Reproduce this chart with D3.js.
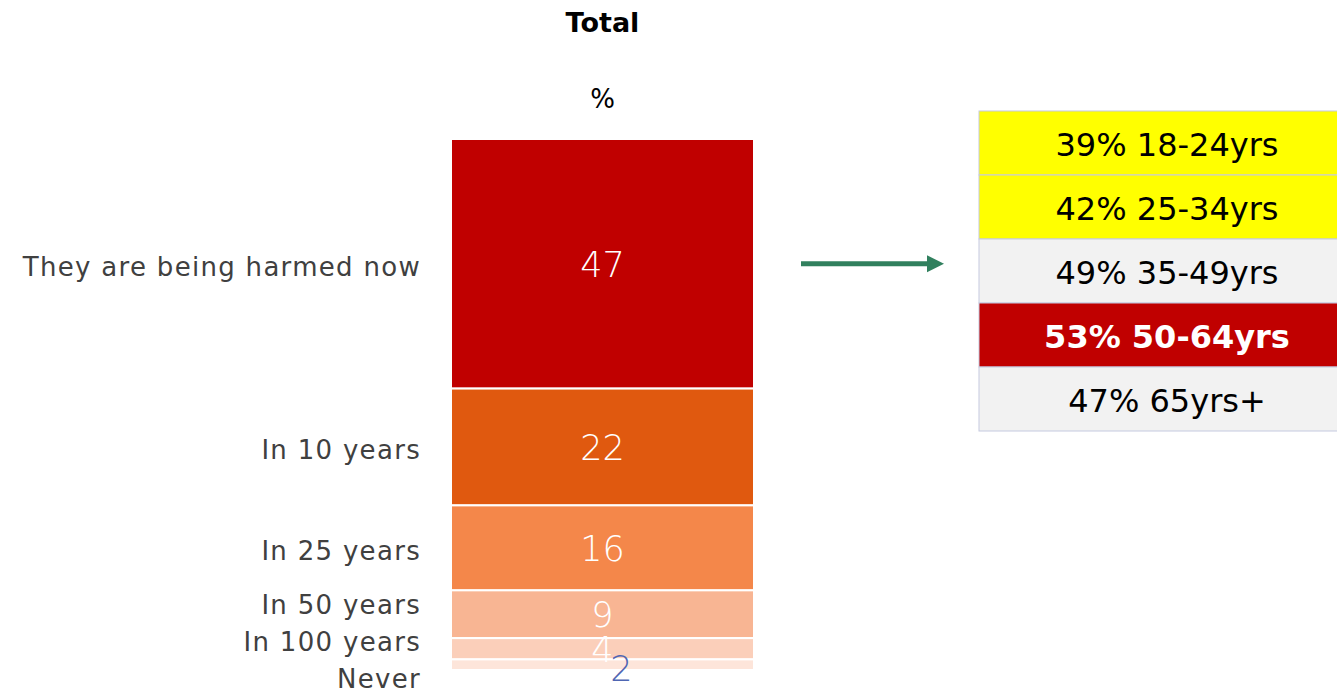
<!DOCTYPE html>
<html>
<head>
<meta charset="utf-8">
<script src="https://cdn.jsdelivr.net/npm/d3@7"></script>
<style>
  html, body { margin: 0; padding: 0; background: #ffffff; overflow: hidden; }
  svg { display: block; }
  text { font-family: "DejaVu Sans", sans-serif; }
</style>
</head>
<body>
<svg id="chart" width="1337" height="691"></svg>
<script>
// ---- data ----
const categories = ["They are being harmed now", "In 10 years", "In 25 years", "In 50 years", "In 100 years", "Never"];
const totalValues = [47, 22, 16, 9, 4, 2];
const segmentColors = ["#c00000", "#e0590f", "#f4874a", "#f8b593", "#fbcfba", "#fde5da"];
const ageGroups = ["18-24yrs", "25-34yrs", "35-49yrs", "50-64yrs", "65yrs+"];
const agePercents = [39, 42, 49, 53, 47];
const chartTitle = "Total";
const unitLabel = "%";

// ---- layout ----
const svg = d3.select("#chart");

const x = d3.scaleBand().domain([chartTitle]).range([451, 754]).padding(0);
const y = d3.scaleLinear().domain([0, 100]).range([139, 670]);

// stack
const stacked = [];
let acc = 0;
totalValues.forEach((v, i) => {
  stacked.push({ cat: categories[i], value: v, y0: acc, y1: acc + v, color: segmentColors[i] });
  acc += v;
});

const cx = x(chartTitle) + x.bandwidth() / 2;

// title
svg.append("text")
  .attr("x", cx)
  .attr("y", 22)
  .attr("text-anchor", "middle")
  .attr("dominant-baseline", "central")
  .style("font-size", "27px")
  .style("font-weight", "bold")
  .style("fill", "#000")
  .text(chartTitle);

svg.append("text")
  .attr("x", cx)
  .attr("y", 99)
  .attr("text-anchor", "middle")
  .attr("dominant-baseline", "central")
  .style("font-size", "26px")
  .style("fill", "#000")
  .text(unitLabel);

// segments
svg.append("g").selectAll("rect")
  .data(stacked)
  .join("rect")
  .attr("x", x(chartTitle))
  .attr("width", x.bandwidth())
  .attr("y", d => y(d.y0))
  .attr("height", d => y(d.y1) - y(d.y0))
  .attr("fill", d => d.color)
  .attr("stroke", "#ffffff")
  .attr("stroke-width", 2);

// value labels
svg.append("g").selectAll("text")
  .data(stacked)
  .join("text")
  .attr("x", d => d.value < 3 ? cx + 19 : cx)
  .attr("y", d => (y(d.y0) + y(d.y1)) / 2 + (d.value < 3 ? 4 : 1))
  .attr("text-anchor", "middle")
  .attr("dominant-baseline", "central")
  .style("font-size", "35px")
  .style("font-weight", "300")
  .style("fill", d => d.value < 3 ? "#4f66b3" : "#ffffff")
  .text(d => d.value);

// category labels with collision avoidance (cluster spreading)
const minGap = 37;
let clusters = stacked.map(d => ({ items: [d], center: (y(d.y0) + y(d.y1)) / 2 }));
function clusterTop(c) { return c.center - (c.items.length - 1) * minGap / 2; }
function clusterBottom(c) { return c.center + (c.items.length - 1) * minGap / 2; }
let changed = true;
while (changed) {
  changed = false;
  for (let i = 0; i < clusters.length - 1; i++) {
    const a = clusters[i], b = clusters[i + 1];
    if (clusterTop(b) - clusterBottom(a) < minGap) {
      const items = a.items.concat(b.items);
      const centers = items.map(d => (y(d.y0) + y(d.y1)) / 2);
      clusters.splice(i, 2, { items, center: d3.mean(centers) });
      changed = true;
      break;
    }
  }
}
const labelPos = [];
clusters.forEach(c => {
  const top = clusterTop(c);
  c.items.forEach((d, k) => labelPos.push({ d, ly: top + k * minGap }));
});

svg.append("g").selectAll("text")
  .data(labelPos)
  .join("text")
  .attr("x", 421)
  .attr("y", p => p.ly + (p.d.value > 10 ? 3 : -1))
  .attr("text-anchor", "end")
  .attr("dominant-baseline", "central")
  .style("font-size", "26px")
  .style("letter-spacing", "1.3px")
  .style("fill", "#404040")
  .text(p => p.d.cat);

// arrow
const arrowY = (y(stacked[0].y0) + y(stacked[0].y1)) / 2;
svg.append("defs").append("marker")
  .attr("id", "ah")
  .attr("viewBox", "0 0 10 10")
  .attr("refX", 0).attr("refY", 5)
  .attr("markerWidth", 3.4).attr("markerHeight", 3.6)
  .attr("markerUnits", "strokeWidth")
  .attr("orient", "auto")
  .append("path").attr("d", "M0,0 L10,5 L0,10 Z").attr("fill", "#31805e");
svg.append("line")
  .attr("x1", 801).attr("x2", 927)
  .attr("y1", arrowY).attr("y2", arrowY)
  .attr("stroke", "#31805e")
  .attr("stroke-width", 5)
  .attr("marker-end", "url(#ah)");

// age table
const maxPct = d3.max(agePercents);
const ty = d3.scaleBand().domain(ageGroups).range([111, 431]).padding(0);
const tableX = 979, tableW = 378;
const rows = svg.append("g").selectAll("g")
  .data(ageGroups.map((g, i) => ({ g, p: agePercents[i] })))
  .join("g");
rows.append("rect")
  .attr("x", tableX)
  .attr("y", d => ty(d.g))
  .attr("width", tableW)
  .attr("height", ty.bandwidth())
  .attr("fill", d => d.p === maxPct ? "#c00000" : (d.p < 45 ? "#ffff00" : "#f2f2f2"))
  .attr("stroke", "#c5cae0")
  .attr("stroke-width", 1);
rows.append("text")
  .attr("x", 1167)
  .attr("y", d => ty(d.g) + ty.bandwidth() / 2 + 2)
  .attr("text-anchor", "middle")
  .attr("dominant-baseline", "central")
  .style("font-size", "32px")
  .style("font-weight", d => d.p === maxPct ? "bold" : "normal")
  .style("fill", d => d.p === maxPct ? "#ffffff" : "#000000")
  .text(d => `${d.p}% ${d.g}`);
</script>
</body>
</html>
